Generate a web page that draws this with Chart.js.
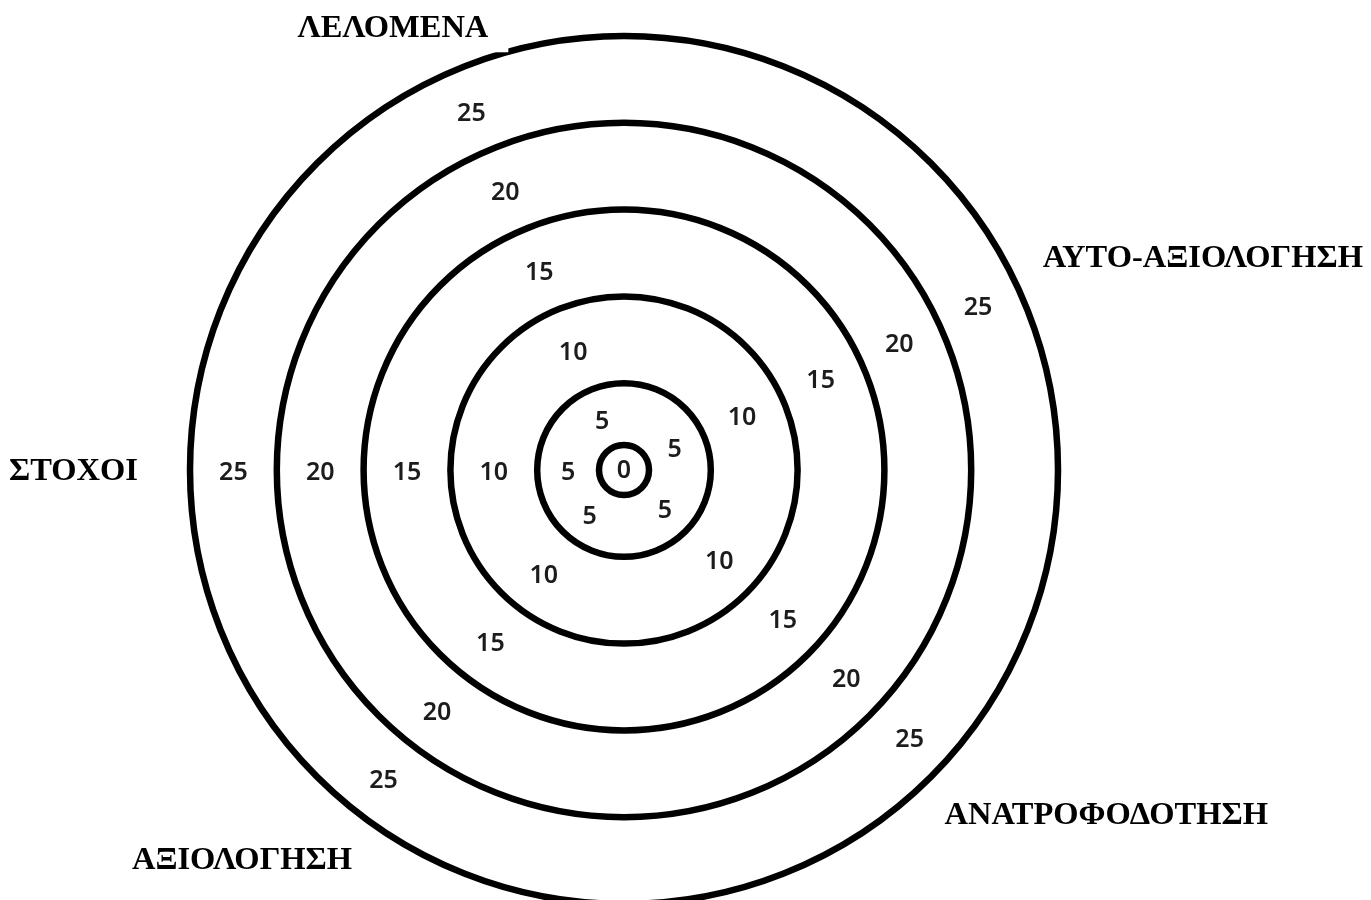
<!DOCTYPE html>
<html>
<head>
<meta charset="utf-8">
<title>Στόχος</title>
<script src="https://cdn.jsdelivr.net/npm/chart.js@4.4.1/dist/chart.umd.min.js"></script>
<style>
    html, body { margin: 0; padding: 0; background: #fff; overflow: hidden; }
    #wrap { width: 1371px; height: 940px; }
    canvas { display: block; }
</style>
</head>
<body>
<div id="wrap"><canvas id="target" width="1371" height="940"></canvas></div>
<script>
const categories = ["ΑΥΤΟ-ΑΞΙΟΛΟΓΗΣΗ", "ΑΝΑΤΡΟΦΟΔΟΤΗΣΗ", "ΑΞΙΟΛΟΓΗΣΗ", "ΣΤΟΧΟΙ", "ΛΕΛΟΜΕΝΑ"];
const ringValues = [0, 5, 10, 15, 20, 25];
const tickLabels = ["0", "5", "10", "15", "20", "25"];
const centrePoint = [0, null, null, null, null];

// ring numbers along each spoke + the category names outside the target
const targetLabels = {
    id: "targetLabels",
    afterDraw(chart, args, opts) {
        const scale = chart.scales.r;
        const ctx = chart.ctx;
        const cx = scale.xCenter;
        const cy = scale.yCenter;
        const toXY = (deg, dist) => {
            const a = (deg * Math.PI) / 180;
            return { x: cx + Math.sin(a) * dist, y: cy - Math.cos(a) * dist };
        };

        ctx.save();
        ctx.font = opts.tickFont;
        ctx.fillStyle = opts.tickColor;
        ctx.textAlign = "center";
        ctx.textBaseline = "middle";
        ctx.fillText(tickLabels[0], cx, cy + 1);

        opts.tickDirections.forEach((deg) => {
            for (let k = 1; k < ringValues.length; k++) {
                const outer = scale.getDistanceFromCenterForValue(ringValues[k]);
                const inner = k === 1
                    ? opts.centreRadius
                    : scale.getDistanceFromCenterForValue(ringValues[k - 1]);
                const p = toXY(deg, (outer + inner) / 2);
                ctx.fillText(tickLabels[k], p.x, p.y + 3);
            }
        });

        ctx.font = opts.labelFont;
        categories.forEach((name, i) => {
            const deg = opts.labelDirections[i];
            const p = toXY(deg, scale.drawingArea + opts.labelGaps[i]);
            const w = ctx.measureText(name).width;
            const leftSide = Math.sin((deg * Math.PI) / 180) < 0;
            const x0 = leftSide ? p.x - w : p.x;
            const padX = opts.labelPadding.x;
            const padY = opts.labelPadding.y;
            const h = opts.labelHeight;
            // white box behind the name, it nicks the outer ring like in the original
            ctx.fillStyle = "#fff";
            ctx.fillRect(x0 - padX, p.y - h / 2 - padY, w + padX * 2, h + padY * 2);
            ctx.fillStyle = "#000";
            ctx.textAlign = leftSide ? "right" : "left";
            ctx.fillText(name, p.x, p.y + 2);
        });
        ctx.restore();
    },
};

new Chart(document.getElementById("target"), {
    type: "radar",
    data: {
        labels: categories,
        datasets: [
            {
                label: tickLabels[0],
                data: centrePoint,
                showLine: false,
                fill: false,
                pointRadius: 25,
                pointBorderWidth: 6.5,
                pointBorderColor: "#000",
                pointBackgroundColor: "#fff",
            },
        ],
    },
    options: {
        responsive: false,
        animation: false,
        events: [],
        layout: { padding: { top: 36, bottom: 36, left: 0, right: 123 } },
        plugins: {
            legend: { display: false },
            tooltip: { enabled: false },
            targetLabels: {
                tickDirections: [65, 133, 218, 270, 337],
                labelDirections: [63, 137, 215, 270, 343],
                labelGaps: [36, 36, 40, 52, 30],
                labelPadding: { x: 20, y: 14 },
                labelHeight: 24,
                centreRadius: 25,
                tickFont: '600 25px "Noto Sans", sans-serif',
                tickColor: "#1c1c1c",
                labelFont: 'bold 32.5px "Liberation Serif", serif',
            },
        },
        scales: {
            r: {
                min: ringValues[0],
                max: ringValues[ringValues.length - 1],
                startAngle: 0,
                angleLines: { display: false },
                grid: { circular: true, color: "#000", lineWidth: 6.5 },
                ticks: { display: false, stepSize: 5 },
                pointLabels: { display: false },
            },
        },
    },
    plugins: [targetLabels],
});
</script>
</body>
</html>
